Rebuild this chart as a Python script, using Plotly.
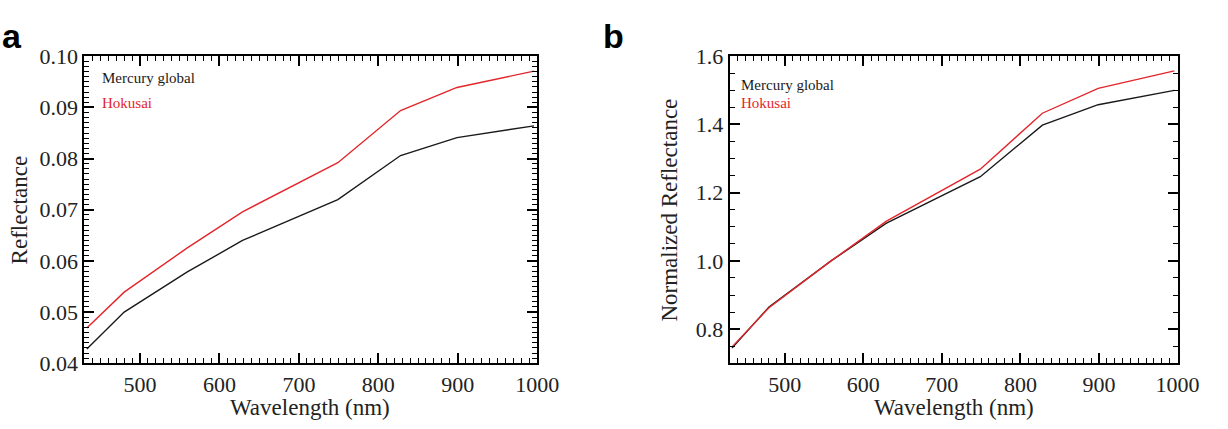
import plotly.graph_objects as go

# MDIS WAC filter centres (nm)
wavelength = [433, 480, 559, 629, 749, 828, 899, 996]

# Panel a: absolute reflectance
refl_global = [0.0428, 0.0500, 0.0578, 0.0640, 0.0720, 0.0806, 0.0841, 0.0864]
refl_hokusai = [0.0469, 0.0539, 0.0625, 0.0696, 0.0792, 0.0894, 0.0939, 0.0971]

# Panel b: reflectance normalized at 559 nm
norm_global = [0.745, 0.865, 1.000, 1.110, 1.247, 1.398, 1.458, 1.500]
norm_hokusai = [0.748, 0.863, 1.000, 1.116, 1.269, 1.433, 1.506, 1.557]

BLACK = "#1a1a1a"
RED = "#e3262b"
SERIF = "Liberation Serif"
W, H = 1228, 429

fig = go.Figure()
fig.add_trace(go.Scatter(x=wavelength, y=refl_global, mode="lines",
                         line=dict(color=BLACK, width=1.4), xaxis="x", yaxis="y"))
fig.add_trace(go.Scatter(x=wavelength, y=refl_hokusai, mode="lines",
                         line=dict(color=RED, width=1.4), xaxis="x", yaxis="y"))
fig.add_trace(go.Scatter(x=wavelength, y=norm_global, mode="lines",
                         line=dict(color=BLACK, width=1.4), xaxis="x2", yaxis="y2"))
fig.add_trace(go.Scatter(x=wavelength, y=norm_hokusai, mode="lines",
                         line=dict(color=RED, width=1.4), xaxis="x2", yaxis="y2"))

ydom = [1 - 373 / H, 1 - 47 / H]
xdom_a = [86 / W, 547 / W]
xdom_b = [743 / W, 1199 / W]


def axis(domain, rng, dtick, minor_dtick, anchor, fmt):
    return dict(
        domain=domain, range=rng, tick0=0, dtick=dtick, anchor=anchor,
        tickformat=fmt,
        showline=True, linecolor="#000", linewidth=2, mirror="ticks",
        ticks="inside", ticklen=10, tickwidth=1.6, tickcolor="#000",
        showgrid=False, zeroline=False,
        tickfont=dict(family=SERIF, size=22, color="#222"),
        minor=dict(dtick=minor_dtick, ticks="inside", ticklen=5,
                   tickwidth=1.3, tickcolor="#000", showgrid=False),
    )


fig.update_layout(
    template="simple_white",
    width=W, height=H,
    margin=dict(l=0, r=0, t=0, b=0),
    showlegend=False,
    xaxis=axis(xdom_a, [430, 1000], 100, 10, "y", "d"),
    yaxis=axis(ydom, [0.04, 0.10], 0.01, 0.001, "x", ".2f"),
    xaxis2=axis(xdom_b, [430, 1000], 100, 10, "y2", "d"),
    yaxis2=axis(ydom, [0.7, 1.6], 0.2, 0.05, "x2", ".1f"),
)

annotations = [
    # panel letters
    dict(text="<b>a</b>", x=12 / W, y=1 - 26 / H, font=dict(family="Liberation Sans", size=34, color="black")),
    dict(text="<b>b</b>", x=625 / W, y=1 - 26 / H, font=dict(family="Liberation Sans", size=34, color="black")),
    # axis titles
    dict(text="Wavelength (nm)", x=316 / W, y=1 - 420 / H, font=dict(family=SERIF, size=23, color="#222")),
    dict(text="Wavelength (nm)", x=971 / W, y=1 - 420 / H, font=dict(family=SERIF, size=23, color="#222")),
    dict(text="Reflectance", x=20 / W, y=1 - 210 / H, textangle=-90, font=dict(family=SERIF, size=23, color="#222")),
    dict(text="Normalized Reflectance", x=682 / W, y=1 - 210 / H, textangle=-90, font=dict(family=SERIF, size=23, color="#222")),
    # in-plot labels
    dict(text="Mercury global", x=102 / W, y=1 - 70 / H, xanchor="left", font=dict(family=SERIF, size=15, color=BLACK)),
    dict(text="Hokusai", x=102 / W, y=1 - 97 / H, xanchor="left", font=dict(family=SERIF, size=15, color=RED)),
    dict(text="Mercury global", x=752 / W, y=1 - 78 / H, xanchor="left", font=dict(family=SERIF, size=15, color=BLACK)),
    dict(text="Hokusai", x=752 / W, y=1 - 97 / H, xanchor="left", font=dict(family=SERIF, size=15, color=RED)),
]
for a in annotations:
    a.setdefault("xanchor", "center")
    a.update(xref="paper", yref="paper", yanchor="middle", showarrow=False)
fig.update_layout(annotations=annotations)

fig.write_html("out.html")
